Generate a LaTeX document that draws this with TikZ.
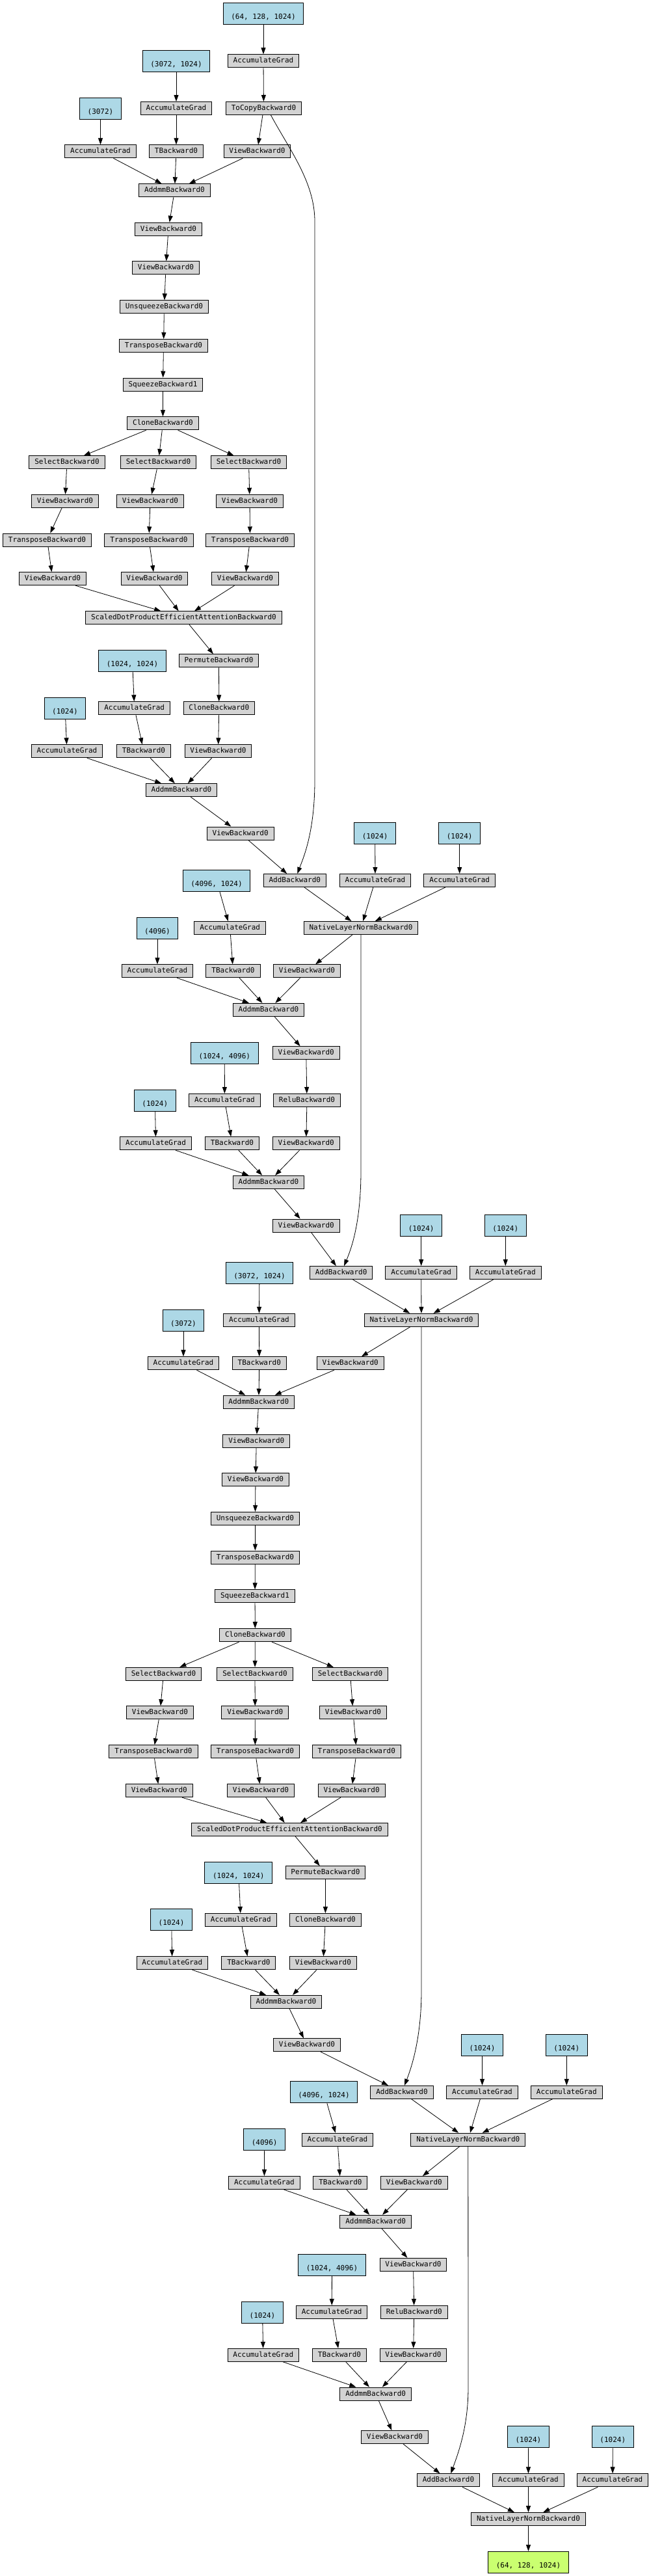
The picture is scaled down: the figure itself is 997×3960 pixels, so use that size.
\documentclass[tikz,border=0pt]{standalone}
\usepackage{fontspec}
\setmonofont{DejaVu Sans Mono}
\usetikzlibrary{arrows.meta}
\definecolor{paramblue}{RGB}{173,216,230}
\definecolor{fngray}{RGB}{211,211,211}
\definecolor{outgreen}{RGB}{202,255,112}

\begin{document}
\begin{tikzpicture}[
    x=1pt, y=-1pt,
    fn/.style={draw, line width=1pt, fill=fngray, minimum height=20pt, inner xsep=8.4pt,
               inner ysep=0pt, text height=8.5pt, text depth=2.5pt,
               font=\ttfamily\fontsize{11pt}{13pt}\selectfont},
    param/.style={fn, fill=paramblue, minimum height=33pt, inner xsep=12.1pt,
                  text height=19.7pt},
    outp/.style={param, fill=outgreen},
    arrow/.style={->, line width=0.8pt, >={Triangle[length=10pt, width=7pt]}}
  ]
  \useasboundingbox (0,0) rectangle (997,3960);

  \node[param] (inp) at (405, 21.2) {(64, 128, 1024)};
  \node[fn] (acc0) at (405, 93.8) {AccumulateGrad};
  \node[param] (inw1) at (271, 93.8) {(3072, 1024)};
  \node[fn] (acc1) at (271, 166.5) {AccumulateGrad};
  \node[fn] (tocopy) at (405.5, 166.5) {ToCopyBackward0};
  \node[param] (inb1) at (154.5, 166.5) {(3072)};
  \node[fn] (acc2) at (154.5, 232.8) {AccumulateGrad};
  \node[fn] (tb1) at (271, 232.8) {TBackward0};
  \node[fn] (view1) at (395.5, 232.8) {ViewBackward0};
  \node[fn] (addmm1) at (268.5, 292.8) {AddmmBackward0};
  \node[fn] (view2) at (259, 352.2) {ViewBackward0};
  \node[fn] (view3) at (255, 411.8) {ViewBackward0};
  \node[fn] (unsq1) at (252.5, 471.8) {UnsqueezeBackward0};
  \node[fn] (transp1) at (251.5, 531.5) {TransposeBackward0};
  \node[fn] (sq1) at (250.5, 591) {SqueezeBackward1};
  \node[fn] (clone1) at (250.5, 650.8) {CloneBackward0};
  \node[fn] (sel1a) at (103, 710.8) {SelectBackward0};
  \node[fn] (sel1b) at (243.5, 710.8) {SelectBackward0};
  \node[fn] (sel1c) at (382.5, 710.8) {SelectBackward0};
  \node[fn] (vw1a) at (100, 770.3) {ViewBackward0};
  \node[fn] (vw1b) at (231, 770.3) {ViewBackward0};
  \node[fn] (vw1c) at (384, 770.3) {ViewBackward0};
  \node[fn] (tr1a) at (72.5, 830) {TransposeBackward0};
  \node[fn] (tr1b) at (229, 830) {TransposeBackward0};
  \node[fn] (tr1c) at (384.5, 830) {TransposeBackward0};
  \node[fn] (vv1a) at (81, 889.7) {ViewBackward0};
  \node[fn] (vv1b) at (237.5, 889.7) {ViewBackward0};
  \node[fn] (vv1c) at (377, 889.7) {ViewBackward0};
  \node[fn] (sdpa1) at (282.5, 949.8) {ScaledDotProductEfficientAttentionBackward0};
  \node[fn] (perm1) at (336.5, 1015.8) {PermuteBackward0};
  \node[param] (inw2) at (203.5, 1016) {(1024, 1024)};
  \node[param] (inb2) at (100, 1088.7) {(1024)};
  \node[fn] (acc3) at (206.7, 1088.8) {AccumulateGrad};
  \node[fn] (clone2) at (336.8, 1088.8) {CloneBackward0};
  \node[fn] (acc4) at (103, 1154.8) {AccumulateGrad};
  \node[fn] (tb2) at (221, 1154.8) {TBackward0};
  \node[fn] (view4) at (335.5, 1154.8) {ViewBackward0};
  \node[fn] (addmm2) at (279, 1214.7) {AddmmBackward0};
  \node[fn] (view5) at (369.7, 1281) {ViewBackward0};
  \node[param] (inln1w) at (576.7, 1281) {(1024)};
  \node[param] (inln1b) at (706.7, 1281) {(1024)};
  \node[fn] (add1) at (453.3, 1353.5) {AddBackward0};
  \node[fn] (acc5) at (577, 1353.5) {AccumulateGrad};
  \node[fn] (acc6) at (706.7, 1353.5) {AccumulateGrad};
  \node[param] (inw3) at (333, 1353.5) {(4096, 1024)};
  \node[param] (inb3) at (242, 1426.5) {(4096)};
  \node[fn] (acc7) at (353.7, 1426.5) {AccumulateGrad};
  \node[fn] (nln1) at (555, 1426.5) {NativeLayerNormBackward0};
  \node[fn] (acc8) at (242, 1492.8) {AccumulateGrad};
  \node[fn] (tb3) at (358.5, 1492.8) {TBackward0};
  \node[fn] (view6) at (472, 1492.8) {ViewBackward0};
  \node[fn] (addmm3) at (413, 1552.3) {AddmmBackward0};
  \node[fn] (view7) at (470.7, 1618.7) {ViewBackward0};
  \node[param] (inw4) at (345.3, 1618.8) {(1024, 4096)};
  \node[param] (inb4) at (238.3, 1691.5) {(1024)};
  \node[fn] (acc9) at (345.4, 1691.5) {AccumulateGrad};
  \node[fn] (relu1) at (472, 1691.5) {ReluBackward0};
  \node[fn] (acc10) at (239.6, 1757.8) {AccumulateGrad};
  \node[fn] (tb4) at (357, 1757.8) {TBackward0};
  \node[fn] (view8) at (470.7, 1757.8) {ViewBackward0};
  \node[fn] (addmm4) at (413, 1817.3) {AddmmBackward0};
  \node[fn] (view9) at (470.7, 1884) {ViewBackward0};
  \node[param] (inln2w) at (647.7, 1883.7) {(1024)};
  \node[param] (inln2b) at (777.3, 1883.7) {(1024)};
  \node[fn] (add2) at (524.7, 1956.5) {AddBackward0};
  \node[fn] (acc11) at (647.7, 1956.5) {AccumulateGrad};
  \node[fn] (acc12) at (777.3, 1956.5) {AccumulateGrad};
  \node[param] (inw5) at (399, 1956.5) {(3072, 1024)};
  \node[param] (inb5) at (282, 2029.5) {(3072)};
  \node[fn] (acc13) at (398.4, 2029.3) {AccumulateGrad};
  \node[fn] (nln2) at (648, 2029.3) {NativeLayerNormBackward0};
  \node[fn] (acc14) at (282, 2095.7) {AccumulateGrad};
  \node[fn] (tb5) at (398.8, 2095.7) {TBackward0};
  \node[fn] (view10) at (538.7, 2095.7) {ViewBackward0};
  \node[fn] (addmm5) at (397.8, 2155.2) {AddmmBackward0};
  \node[fn] (view11) at (394.3, 2215.2) {ViewBackward0};
  \node[fn] (view12) at (393, 2274.8) {ViewBackward0};
  \node[fn] (unsq2) at (392.4, 2334.3) {UnsqueezeBackward0};
  \node[fn] (transp2) at (392.4, 2394) {TransposeBackward0};
  \node[fn] (sq2) at (392, 2453.8) {SqueezeBackward1};
  \node[fn] (clone3) at (392.4, 2513.7) {CloneBackward0};
  \node[fn] (sel2a) at (251.5, 2573.3) {SelectBackward0};
  \node[fn] (sel2b) at (392, 2573.3) {SelectBackward0};
  \node[fn] (sel2c) at (538.5, 2573.3) {SelectBackward0};
  \node[fn] (vw2a) at (246, 2632.8) {ViewBackward0};
  \node[fn] (vw2b) at (392.3, 2632.8) {ViewBackward0};
  \node[fn] (vw2c) at (543, 2632.8) {ViewBackward0};
  \node[fn] (tr2a) at (236, 2692.8) {TransposeBackward0};
  \node[fn] (tr2b) at (392.4, 2692.8) {TransposeBackward0};
  \node[fn] (tr2c) at (548.3, 2692.8) {TransposeBackward0};
  \node[fn] (vv2a) at (244.8, 2752.7) {ViewBackward0};
  \node[fn] (vv2b) at (401, 2752.7) {ViewBackward0};
  \node[fn] (vv2c) at (540.6, 2752.7) {ViewBackward0};
  \node[fn] (sdpa2) at (445.4, 2812.5) {ScaledDotProductEfficientAttentionBackward0};
  \node[fn] (perm2) at (500.4, 2878.7) {PermuteBackward0};
  \node[param] (inw6) at (366.8, 2878.5) {(1024, 1024)};
  \node[param] (inb6) at (263.6, 2951.3) {(1024)};
  \node[fn] (acc15) at (370.3, 2951.5) {AccumulateGrad};
  \node[fn] (clone4) at (500.4, 2951.5) {CloneBackward0};
  \node[fn] (acc16) at (264.8, 3017.7) {AccumulateGrad};
  \node[fn] (tb6) at (382.4, 3017.7) {TBackward0};
  \node[fn] (view13) at (496.9, 3017.7) {ViewBackward0};
  \node[fn] (addmm6) at (440, 3077.3) {AddmmBackward0};
  \node[fn] (view14) at (472, 3143.7) {ViewBackward0};
  \node[param] (inln3w) at (741.6, 3143.5) {(1024)};
  \node[param] (inln3b) at (871.3, 3143.5) {(1024)};
  \node[fn] (add3) at (618, 3216.3) {AddBackward0};
  \node[fn] (acc17) at (741.5, 3216.3) {AccumulateGrad};
  \node[fn] (acc18) at (871.3, 3216.3) {AccumulateGrad};
  \node[param] (inw7) at (498, 3216.3) {(4096, 1024)};
  \node[param] (inb7) at (406.7, 3289.3) {(4096)};
  \node[fn] (acc19) at (518.9, 3289.2) {AccumulateGrad};
  \node[fn] (nln3) at (719.8, 3289.2) {NativeLayerNormBackward0};
  \node[fn] (acc20) at (406.4, 3355.5) {AccumulateGrad};
  \node[fn] (tb7) at (523.4, 3355.5) {TBackward0};
  \node[fn] (view15) at (636.8, 3355.5) {ViewBackward0};
  \node[fn] (addmm7) at (577.7, 3415.2) {AddmmBackward0};
  \node[fn] (view16) at (635.5, 3481.3) {ViewBackward0};
  \node[param] (inw8) at (510.5, 3481.5) {(1024, 4096)};
  \node[param] (inb8) at (403.5, 3554.5) {(1024)};
  \node[fn] (acc21) at (510.2, 3554.3) {AccumulateGrad};
  \node[fn] (relu2) at (636.8, 3554.3) {ReluBackward0};
  \node[fn] (acc22) at (404.8, 3620.3) {AccumulateGrad};
  \node[fn] (tb8) at (522, 3620.3) {TBackward0};
  \node[fn] (view17) at (635.5, 3620.3) {ViewBackward0};
  \node[fn] (addmm8) at (577.7, 3680) {AddmmBackward0};
  \node[fn] (view18) at (607, 3746.5) {ViewBackward0};
  \node[param] (inln4w) at (812.4, 3746.3) {(1024)};
  \node[param] (inln4b) at (942.3, 3746.3) {(1024)};
  \node[fn] (add4) at (689.5, 3812.8) {AddBackward0};
  \node[fn] (acc23) at (812.5, 3812.8) {AccumulateGrad};
  \node[fn] (acc24) at (942, 3812.8) {AccumulateGrad};
  \node[fn] (nln4) at (812.5, 3872.5) {NativeLayerNormBackward0};
  \node[outp] (out) at (812.5, 3938.8) {(64, 128, 1024)};

  \draw[arrow] (inp) -- (acc0);
  \draw[arrow] (acc0) -- (tocopy);
  \draw[arrow] (inw1) -- (acc1);
  \draw[arrow] (acc1) -- (tb1);
  \draw[arrow] (inb1) -- (acc2);
  \draw[arrow] (tocopy) -- (view1);
  \draw[arrow] (acc2) -- (addmm1);
  \draw[arrow] (tb1) -- (addmm1);
  \draw[arrow] (view1) -- (addmm1);
  \draw[arrow] ([xshift=11pt]tocopy.south) .. controls (445,230) and (484,280) .. (484,340)
    -- (484,1200) .. controls (484,1280) and (466,1320) .. (add1);
  \draw[arrow] (addmm1) -- (view2);
  \draw[arrow] (view2) -- (view3);
  \draw[arrow] (view3) -- (unsq1);
  \draw[arrow] (unsq1) -- (transp1);
  \draw[arrow] (transp1) -- (sq1);
  \draw[arrow] (sq1) -- (clone1);
  \draw[arrow] (clone1) -- (sel1a);
  \draw[arrow] (clone1) -- (sel1b);
  \draw[arrow] (clone1) -- (sel1c);
  \draw[arrow] (sel1a) -- (vw1a);
  \draw[arrow] (sel1b) -- (vw1b);
  \draw[arrow] (sel1c) -- (vw1c);
  \draw[arrow] (vw1a) -- (tr1a);
  \draw[arrow] (vw1b) -- (tr1b);
  \draw[arrow] (vw1c) -- (tr1c);
  \draw[arrow] (tr1a) -- (vv1a);
  \draw[arrow] (tr1b) -- (vv1b);
  \draw[arrow] (tr1c) -- (vv1c);
  \draw[arrow] (vv1a) -- (sdpa1);
  \draw[arrow] (vv1b) -- (sdpa1);
  \draw[arrow] (vv1c) -- (sdpa1);
  \draw[arrow] (sdpa1) -- (perm1);
  \draw[arrow] (perm1) -- (clone2);
  \draw[arrow] (clone2) -- (view4);
  \draw[arrow] (inw2) -- (acc3);
  \draw[arrow] (acc3) -- (tb2);
  \draw[arrow] (inb2) -- (acc4);
  \draw[arrow] (acc4) -- (addmm2);
  \draw[arrow] (tb2) -- (addmm2);
  \draw[arrow] (view4) -- (addmm2);
  \draw[arrow] (addmm2) -- (view5);
  \draw[arrow] (view5) -- (add1);
  \draw[arrow] (inln1w) -- (acc5);
  \draw[arrow] (inln1b) -- (acc6);
  \draw[arrow] (add1) -- (nln1);
  \draw[arrow] (acc5) -- (nln1);
  \draw[arrow] (acc6) -- (nln1);
  \draw[arrow] (nln1) -- (view6);
  \draw[arrow] (inw3) -- (acc7);
  \draw[arrow] (acc7) -- (tb3);
  \draw[arrow] (inb3) -- (acc8);
  \draw[arrow] (acc8) -- (addmm3);
  \draw[arrow] (tb3) -- (addmm3);
  \draw[arrow] (view6) -- (addmm3);
  \draw[arrow] (addmm3) -- (view7);
  \draw[arrow] (view7) -- (relu1);
  \draw[arrow] (relu1) -- (view8);
  \draw[arrow] (inw4) -- (acc9);
  \draw[arrow] (acc9) -- (tb4);
  \draw[arrow] (inb4) -- (acc10);
  \draw[arrow] (acc10) -- (addmm4);
  \draw[arrow] (tb4) -- (addmm4);
  \draw[arrow] (view8) -- (addmm4);
  \draw[arrow] (addmm4) -- (view9);
  \draw[arrow] (view9) -- (add2);
  \draw[arrow] (nln1.south) -- (555,1800) .. controls (555,1880) and (540,1920) .. (add2);
  \draw[arrow] (inln2w) -- (acc11);
  \draw[arrow] (inln2b) -- (acc12);
  \draw[arrow] (add2) -- (nln2);
  \draw[arrow] (acc11) -- (nln2);
  \draw[arrow] (acc12) -- (nln2);
  \draw[arrow] (nln2) -- (view10);
  \draw[arrow] (inw5) -- (acc13);
  \draw[arrow] (acc13) -- (tb5);
  \draw[arrow] (inb5) -- (acc14);
  \draw[arrow] (acc14) -- (addmm5);
  \draw[arrow] (tb5) -- (addmm5);
  \draw[arrow] (view10) -- (addmm5);
  \draw[arrow] (addmm5) -- (view11);
  \draw[arrow] (view11) -- (view12);
  \draw[arrow] (view12) -- (unsq2);
  \draw[arrow] (unsq2) -- (transp2);
  \draw[arrow] (transp2) -- (sq2);
  \draw[arrow] (sq2) -- (clone3);
  \draw[arrow] (clone3) -- (sel2a);
  \draw[arrow] (clone3) -- (sel2b);
  \draw[arrow] (clone3) -- (sel2c);
  \draw[arrow] (sel2a) -- (vw2a);
  \draw[arrow] (sel2b) -- (vw2b);
  \draw[arrow] (sel2c) -- (vw2c);
  \draw[arrow] (vw2a) -- (tr2a);
  \draw[arrow] (vw2b) -- (tr2b);
  \draw[arrow] (vw2c) -- (tr2c);
  \draw[arrow] (tr2a) -- (vv2a);
  \draw[arrow] (tr2b) -- (vv2b);
  \draw[arrow] (tr2c) -- (vv2c);
  \draw[arrow] (vv2a) -- (sdpa2);
  \draw[arrow] (vv2b) -- (sdpa2);
  \draw[arrow] (vv2c) -- (sdpa2);
  \draw[arrow] (sdpa2) -- (perm2);
  \draw[arrow] (perm2) -- (clone4);
  \draw[arrow] (clone4) -- (view13);
  \draw[arrow] (inw6) -- (acc15);
  \draw[arrow] (acc15) -- (tb6);
  \draw[arrow] (inb6) -- (acc16);
  \draw[arrow] (acc16) -- (addmm6);
  \draw[arrow] (tb6) -- (addmm6);
  \draw[arrow] (view13) -- (addmm6);
  \draw[arrow] (addmm6) -- (view14);
  \draw[arrow] (view14) -- (add3);
  \draw[arrow] (nln2.south) -- (648,3060) .. controls (648,3130) and (634,3175) .. (add3);
  \draw[arrow] (inln3w) -- (acc17);
  \draw[arrow] (inln3b) -- (acc18);
  \draw[arrow] (add3) -- (nln3);
  \draw[arrow] (acc17) -- (nln3);
  \draw[arrow] (acc18) -- (nln3);
  \draw[arrow] (nln3) -- (view15);
  \draw[arrow] (inw7) -- (acc19);
  \draw[arrow] (acc19) -- (tb7);
  \draw[arrow] (inb7) -- (acc20);
  \draw[arrow] (acc20) -- (addmm7);
  \draw[arrow] (tb7) -- (addmm7);
  \draw[arrow] (view15) -- (addmm7);
  \draw[arrow] (addmm7) -- (view16);
  \draw[arrow] (view16) -- (relu2);
  \draw[arrow] (relu2) -- (view17);
  \draw[arrow] (inw8) -- (acc21);
  \draw[arrow] (acc21) -- (tb8);
  \draw[arrow] (inb8) -- (acc22);
  \draw[arrow] (acc22) -- (addmm8);
  \draw[arrow] (tb8) -- (addmm8);
  \draw[arrow] (view17) -- (addmm8);
  \draw[arrow] (addmm8) -- (view18);
  \draw[arrow] (view18) -- (add4);
  \draw[arrow] (nln3.south) -- (720,3670) .. controls (720,3730) and (705,3770) .. (add4);
  \draw[arrow] (inln4w) -- (acc23);
  \draw[arrow] (inln4b) -- (acc24);
  \draw[arrow] (add4) -- (nln4);
  \draw[arrow] (acc23) -- (nln4);
  \draw[arrow] (acc24) -- (nln4);
  \draw[arrow] (nln4) -- (out);
\end{tikzpicture}
\end{document}
